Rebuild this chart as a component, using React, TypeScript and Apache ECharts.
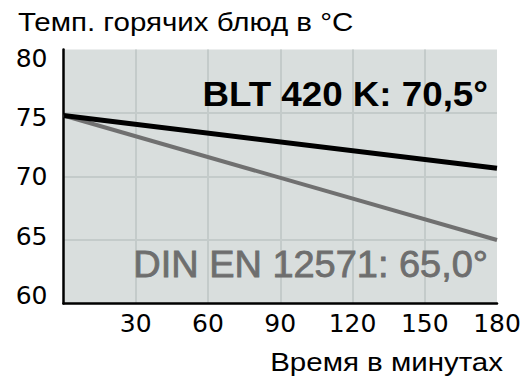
import React, { useEffect, useRef } from "react";
import * as echarts from "echarts";

const timeMinutes = [0, 180];
const bltValues = [74.8, 70.65];
const dinValues = [74.8, 65.0];
const yTickLabels = [60, 65, 70, 75, 80];
const xTickLabels = [30, 60, 90, 120, 150, 180];
const titleText = "Темп. горячих блюд в °C";
const xAxisTitle = "Время в минутах";
const bltLabel = "BLT 420 K: 70,5°";
const dinLabel = "DIN EN 12571: 65,0°";

const FONT = "'Liberation Sans', Arial, Helvetica, sans-serif";
const TICK_FONT = "'DejaVu Sans', sans-serif";

export default function App() {
  const ref = useRef<HTMLDivElement>(null);
  useEffect(() => {
    if (!ref.current) return;
    const chart = echarts.init(ref.current, null, { renderer: "svg" });
    const gridColor = "#c4cbca";
    chart.setOption({
      animation: false,
      backgroundColor: "#ffffff",
      grid: {
        left: 63.5,
        right: 28,
        top: 49.5,
        bottom: 87.5,
        show: true,
        backgroundColor: "#d9dedd",
        borderWidth: 0,
      },
      xAxis: {
        type: "value",
        min: 0,
        max: 180,
        interval: 30,
        axisLine: { show: true, onZero: false, lineStyle: { color: "#000", width: 2.5 } },
        axisTick: { show: false },
        splitLine: { show: true, showMinLine: false, showMaxLine: false, lineStyle: { color: gridColor, width: 2 } },
        axisLabel: {
          show: true,
          customValues: xTickLabels,
          margin: 7,
          color: "#000",
          fontSize: 25,
          fontFamily: TICK_FONT,
        },
      },
      yAxis: [
        {
          type: "value",
          min: 60,
          max: 80,
          interval: 5,
          axisLine: { show: true, onZero: false, lineStyle: { color: "#000", width: 2.5 } },
          axisTick: { show: false },
          axisLabel: { show: false },
          splitLine: { show: true, showMinLine: false, showMaxLine: false, lineStyle: { color: gridColor, width: 2 } },
        },
        {
          type: "value",
          position: "left",
          min: 59.32,
          max: 80.76,
          axisLine: { show: false },
          axisTick: { show: false },
          splitLine: { show: false },
          axisLabel: {
            show: true,
            customValues: yTickLabels,
            margin: 16,
            color: "#000",
            fontSize: 25,
            fontFamily: TICK_FONT,
          },
        },
      ],
      series: [
        {
          type: "line",
          yAxisIndex: 0,
          symbol: "none",
          data: timeMinutes.map((t, i) => [t, dinValues[i]]),
          lineStyle: { color: "#707070", width: 4 },
          z: 3,
        },
        {
          type: "line",
          yAxisIndex: 0,
          symbol: "none",
          data: timeMinutes.map((t, i) => [t, bltValues[i]]),
          lineStyle: { color: "#000000", width: 5 },
          z: 4,
        },
      ],
      graphic: [
        {
          type: "text",
          x: 18,
          y: 22,
          scaleX: 1.18,
          style: { text: titleText, x: 0, y: 0, fill: "#000", fontSize: 25, fontFamily: FONT, align: "left", verticalAlign: "middle" },
        },
        {
          type: "text",
          x: 503,
          y: 362,
          scaleX: 1.18,
          style: { text: xAxisTitle, x: 0, y: 0, fill: "#000", fontSize: 25, fontFamily: FONT, align: "right", verticalAlign: "middle" },
        },
        {
          type: "text",
          x: 488,
          y: 94.5,
          z: 10,
          scaleX: 1.05,
          style: { text: bltLabel, x: 0, y: 0, fill: "#000", fontSize: 35, fontWeight: "bold", fontFamily: FONT, align: "right", verticalAlign: "middle" },
        },
        {
          type: "text",
          x: 488,
          y: 264.5,
          z: 10,
          scaleX: 1.04,
          style: {
            text: dinLabel,
            x: 0,
            y: 0,
            fill: "#6e6e6e",
            fontSize: 36.5,
            fontFamily: FONT,
            align: "right",
            verticalAlign: "middle",
            stroke: "#6e6e6e",
            lineWidth: 0.8,
          },
        },
      ],
    });
    return () => chart.dispose();
  }, []);
  return <div ref={ref} style={{ width: 525, height: 391, position: "absolute", left: 0, top: 0 }} />;
}
